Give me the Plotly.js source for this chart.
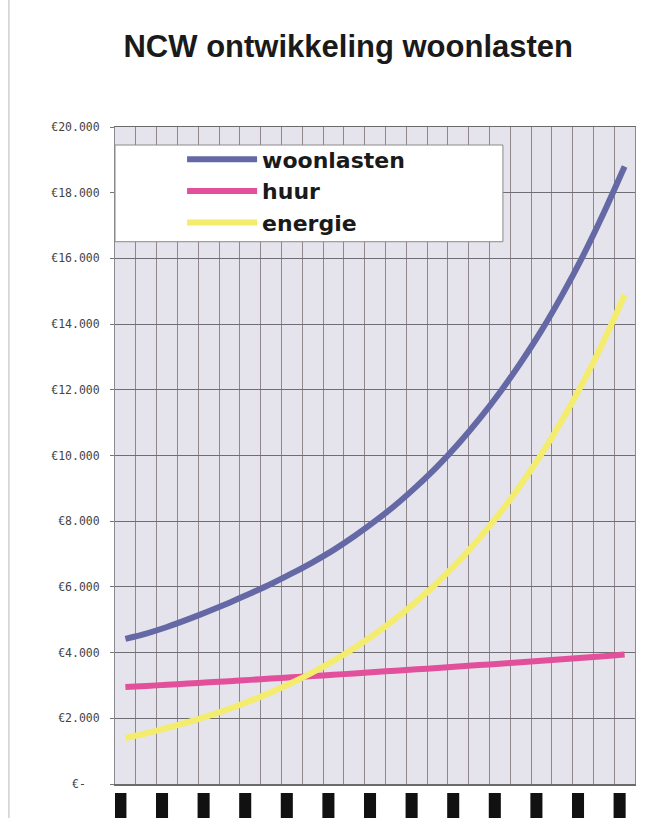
<!DOCTYPE html>
<html><head><meta charset="utf-8">
<script src="https://cdn.plot.ly/plotly-3.0.1.min.js"></script>
<style>html,body{margin:0;padding:0;background:#fff;}#chart{width:671px;height:818px;}</style>
</head><body><div id="chart"></div>
<script>
// categories (jaren) - labels in the source are blacked out
const jaren = ['1','2','3','4','5','6','7','8','9','10','11','12','13','14','15','16','17','18','19','20','21','22','23','24','25'];

// series values (euro per jaar)
const woonlasten = [4420, 4580, 4780, 5010, 5260, 5520, 5800, 6090, 6410, 6750, 7120, 7540, 8000, 8500, 9060, 9670, 10350, 11100, 11920, 12820, 13800, 14890, 16080, 17390, 18800];
const huur       = [2950, 2985, 3020, 3060, 3095, 3130, 3170, 3210, 3250, 3285, 3325, 3365, 3410, 3450, 3490, 3530, 3575, 3620, 3660, 3705, 3750, 3795, 3840, 3890, 3940];
const energie    = [1400, 1545, 1705, 1880, 2075, 2290, 2530, 2790, 3080, 3400, 3750, 4140, 4565, 5040, 5560, 6135, 6770, 7470, 8245, 9100, 10040, 11080, 12225, 13490, 14885];

const seriesNames = ['woonlasten', 'huur', 'energie'];

// y-axis ticks
const yTickValues = [0, 2000, 4000, 6000, 8000, 10000, 12000, 14000, 16000, 18000, 20000];
const yTickLabels = ['€-\u00a0\u00a0', '€2.000', '€4.000', '€6.000', '€8.000', '€10.000', '€12.000', '€14.000', '€16.000', '€18.000', '€20.000'];

const titleText = 'NCW ontwikkeling woonlasten';

const colors = ['#6469a6', '#e2509b', '#f4ec6c'];
const seriesData = [woonlasten, huur, energie];

const traces = seriesData.map((vals, k) => ({
  type: 'scatter', mode: 'lines',
  name: seriesNames[k],
  x: jaren, y: vals,
  line: {color: colors[k], width: 6, shape: 'spline', smoothing: 0.6}
}));

// blacked-out x tick labels (every second category)
const shapes = jaren
  .map((j, i) => i)
  .filter(i => i % 2 === 0)
  .map(i => ({
    type: 'rect', xref: 'x', yref: 'paper',
    x0: i - 0.53, x1: i + 0.05, y0: -0.1, y1: -0.0137,
    fillcolor: '#111', line: {width: 0}, layer: 'above'
  }));

// white legend box
shapes.push({
  type: 'rect', xref: 'paper', yref: 'paper',
  x0: 0, x1: 0.746, y0: 0.8254, y1: 0.9726,
  fillcolor: '#ffffff', line: {color: '#8a8a8a', width: 1}, layer: 'above'
});
// scan edge line on the left
shapes.push({
  type: 'line', xref: 'paper', yref: 'paper',
  x0: -0.204, x1: -0.204, y0: -0.1, y1: 1.25,
  line: {color: '#b8b8bc', width: 1}, layer: 'above'
});

const layout = {
  width: 671, height: 818,
  paper_bgcolor: '#ffffff',
  plot_bgcolor: '#e5e3eb',
  margin: {l: 115, r: 36, t: 127, b: 34},
  title: {
    text: '<b>' + titleText + '</b>',
    font: {family: 'Liberation Sans, Arial, sans-serif', size: 31, color: '#1a1a1a'},
    xref: 'container', x: 0.519, xanchor: 'center',
    yref: 'container', y: 0.944, yanchor: 'middle'
  },
  xaxis: {
    type: 'category',
    range: [-0.5, 24.5],
    tickson: 'boundaries',
    showticklabels: false,
    ticks: '',
    showgrid: true, gridcolor: '#8f878b', gridwidth: 1,
    showline: true, linecolor: '#6a6a6e', linewidth: 1.5, mirror: true,
    zeroline: false, fixedrange: true
  },
  yaxis: {
    range: [0, 20000],
    tickmode: 'array', tickvals: yTickValues, ticktext: yTickLabels,
    ticks: 'outside', ticklen: 4, tickcolor: '#777', tickwidth: 1,
    ticklabelstandoff: 8,
    tickfont: {family: 'DejaVu Sans Mono, monospace', size: 11.5, color: '#444'},
    showgrid: true, gridcolor: '#6e6e72', gridwidth: 1,
    showline: true, linecolor: '#8a8a90', linewidth: 1, mirror: true,
    zeroline: false, fixedrange: true
  },
  showlegend: true,
  legend: {
    x: 0.129, xanchor: 'left', xref: 'paper',
    y: 0.9825, yanchor: 'top', yref: 'paper',
    bgcolor: 'rgba(0,0,0,0)', borderwidth: 0,
    itemwidth: 70,
    font: {family: 'DejaVu Sans, sans-serif', size: 22, color: '#1a1a1a', weight: 'bold'},
    tracegroupgap: 0
  },
  shapes: shapes
};

Plotly.newPlot('chart', traces, layout, {displayModeBar: false, staticPlot: true});
</script>
</body></html>
